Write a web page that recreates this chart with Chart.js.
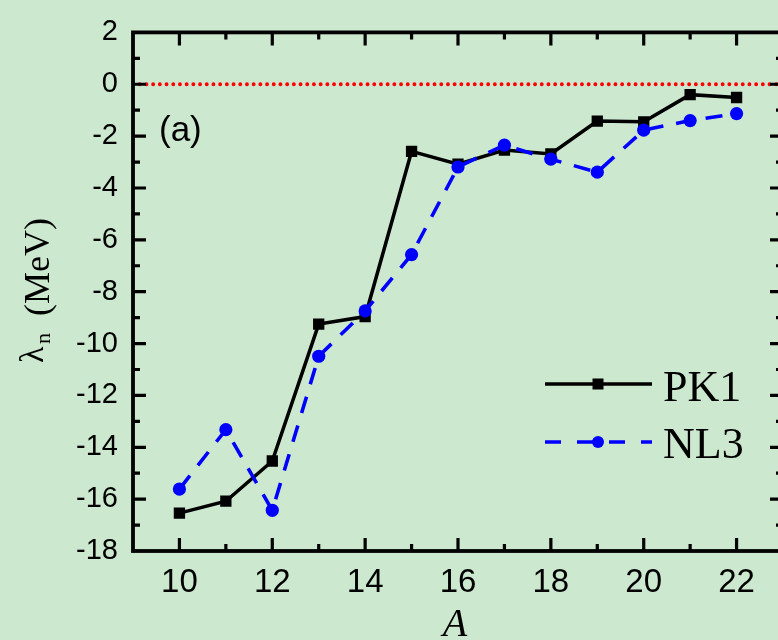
<!DOCTYPE html>
<html>
<head>
<meta charset="utf-8">
<script src="https://cdn.jsdelivr.net/npm/chart.js@4.4.0/dist/chart.umd.min.js"></script>
<style>
html, body { margin: 0; padding: 0; background: #cce8cf; overflow: hidden; }
#wrap { width: 778px; height: 640px; overflow: hidden; }
</style>
</head>
<body>
<div id="wrap"><canvas id="chart" width="800" height="640"></canvas></div>
<script>
var massNumbers = [10, 11, 12, 13, 14, 15, 16, 17, 18, 19, 20, 21, 22];
var pk1 = [-16.54, -16.08, -14.53, -9.25, -8.96, -2.59, -3.08, -2.54, -2.69, -1.42, -1.45, -0.40, -0.51];
var nl3 = [-15.61, -13.32, -16.43, -10.49, -8.74, -6.57, -3.19, -2.35, -2.89, -3.39, -1.77, -1.40, -1.13];
var xTicks = [10, 12, 14, 16, 18, 20, 22];
var yTicks = [2, 0, -2, -4, -6, -8, -10, -12, -14, -16, -18];
var xRange = [9, 23];
var yRange = [-18, 2];
var zeroLevel = 0;

function toPoints(xs, ys) {
    return xs.map(function(x, i) { return { x: x, y: ys[i] }; });
}

var sans = "'Liberation Sans', Arial, sans-serif";
var serif = "'Liberation Serif', 'Times New Roman', serif";

// inward ticks on all four sides + box
var framePlugin = {
    id: 'frame',
    afterDatasetsDraw: function(chart) {
        var ctx = chart.ctx, a = chart.chartArea;
        var xs = chart.scales.x, ys = chart.scales.y;
        ctx.save();
        ctx.strokeStyle = '#000';
        ctx.lineWidth = 3.2;
        ctx.beginPath();
        for (var v = xRange[0] + 1; v < xRange[1]; v++) {
            var len = xTicks.indexOf(v) >= 0 ? 13 : 7;
            var px = xs.getPixelForValue(v);
            ctx.moveTo(px, a.bottom); ctx.lineTo(px, a.bottom - len);
            ctx.moveTo(px, a.top); ctx.lineTo(px, a.top + len);
        }
        for (var w = yRange[0] + 1; w < yRange[1]; w++) {
            var len2 = yTicks.indexOf(w) >= 0 ? 13 : 7;
            var py = ys.getPixelForValue(w);
            ctx.moveTo(a.left, py); ctx.lineTo(a.left + len2, py);
            ctx.moveTo(a.right, py); ctx.lineTo(a.right - len2, py);
        }
        ctx.stroke();
        ctx.lineWidth = 3.8;
        ctx.strokeRect(a.left, a.top, a.right - a.left, a.bottom - a.top);
        ctx.restore();
    },
    afterDraw: function(chart) {
        var ctx = chart.ctx;
        var dsP = chart.data.datasets[1], dsN = chart.data.datasets[0];
        ctx.save();
        // panel label
        ctx.fillStyle = '#000';
        ctx.font = '35px ' + sans;
        ctx.textBaseline = 'alphabetic';
        ctx.fillText('(a)', 159, 141);

        // legend
        ctx.strokeStyle = dsP.borderColor; ctx.lineWidth = dsP.borderWidth;
        ctx.beginPath(); ctx.moveTo(545, 384); ctx.lineTo(652, 384); ctx.stroke();
        ctx.fillStyle = dsP.pointBackgroundColor;
        ctx.fillRect(598 - 5.5, 384 - 5.5, 11, 11);
        ctx.strokeStyle = dsN.borderColor; ctx.lineWidth = dsN.borderWidth;
        ctx.setLineDash([16, 16]);
        ctx.beginPath(); ctx.moveTo(545, 442); ctx.lineTo(652, 442); ctx.stroke();
        ctx.setLineDash([]);
        ctx.fillStyle = dsN.pointBackgroundColor;
        ctx.beginPath(); ctx.arc(598, 442, 6, 0, Math.PI * 2); ctx.fill();
        ctx.fillStyle = '#000';
        ctx.font = '44px ' + serif;
        ctx.fillText(dsP.label, 663, 401);
        ctx.fillText(dsN.label, 663, 458);

        // x title
        ctx.font = 'italic 40px ' + serif;
        ctx.textAlign = 'center';
        ctx.fillText('A', 455, 636);

        // y title, rotated
        ctx.rotate(-Math.PI / 2);
        ctx.textAlign = 'left';
        ctx.font = '34px ' + serif;
        ctx.fillText('\u03bb', -363, 43);
        ctx.font = '22px ' + serif;
        ctx.fillText('n', -344, 50);
        ctx.font = '36px ' + serif;
        ctx.fillText('(MeV)', -316, 49);
        ctx.restore();
    }
};

new Chart(document.getElementById('chart'), {
    type: 'line',
    data: {
        datasets: [
            {
                label: 'NL3',
                data: toPoints(massNumbers, nl3),
                borderColor: '#0000ff',
                borderWidth: 3.6,
                borderDash: [17, 13],
                pointStyle: 'circle',
                pointRadius: 6.6,
                pointBackgroundColor: '#0000ff',
                pointBorderWidth: 0,
                tension: 0
            },
            {
                label: 'PK1',
                data: toPoints(massNumbers, pk1),
                borderColor: '#000000',
                borderWidth: 3.5,
                pointStyle: 'rect',
                pointRadius: 8,
                pointBackgroundColor: '#000000',
                pointBorderWidth: 0,
                tension: 0
            },
            {
                label: 'zero',
                data: toPoints(xRange, [zeroLevel, zeroLevel]),
                borderColor: '#ff0000',
                borderWidth: 3.8,
                borderDash: [0.1, 6.6],
                borderCapStyle: 'round',
                pointRadius: 0
            }
        ]
    },
    options: {
        responsive: false,
        animation: false,
        layout: { padding: { top: 27, right: 17, left: 0, bottom: 0 } },
        plugins: { legend: { display: false }, tooltip: { enabled: false } },
        scales: {
            x: {
                type: 'linear',
                min: xRange[0],
                max: xRange[1],
                afterBuildTicks: function(s) { s.ticks = xTicks.map(function(v) { return { value: v }; }); },
                afterFit: function(s) { s.height = 89; },
                grid: { display: false, drawTicks: false },
                border: { display: false },
                ticks: { color: '#000', font: { family: sans, size: 33 }, padding: 12, autoSkip: false, maxRotation: 0 }
            },
            y: {
                type: 'linear',
                min: yRange[0],
                max: yRange[1],
                afterBuildTicks: function(s) { s.ticks = yTicks.map(function(v) { return { value: v }; }); },
                afterFit: function(s) { s.width = 133; },
                grid: { display: false, drawTicks: false },
                border: { display: false },
                ticks: { color: '#000', font: { family: sans, size: 29 }, padding: 15, autoSkip: false }
            }
        }
    },
    plugins: [framePlugin]
});
</script>
</body>
</html>
